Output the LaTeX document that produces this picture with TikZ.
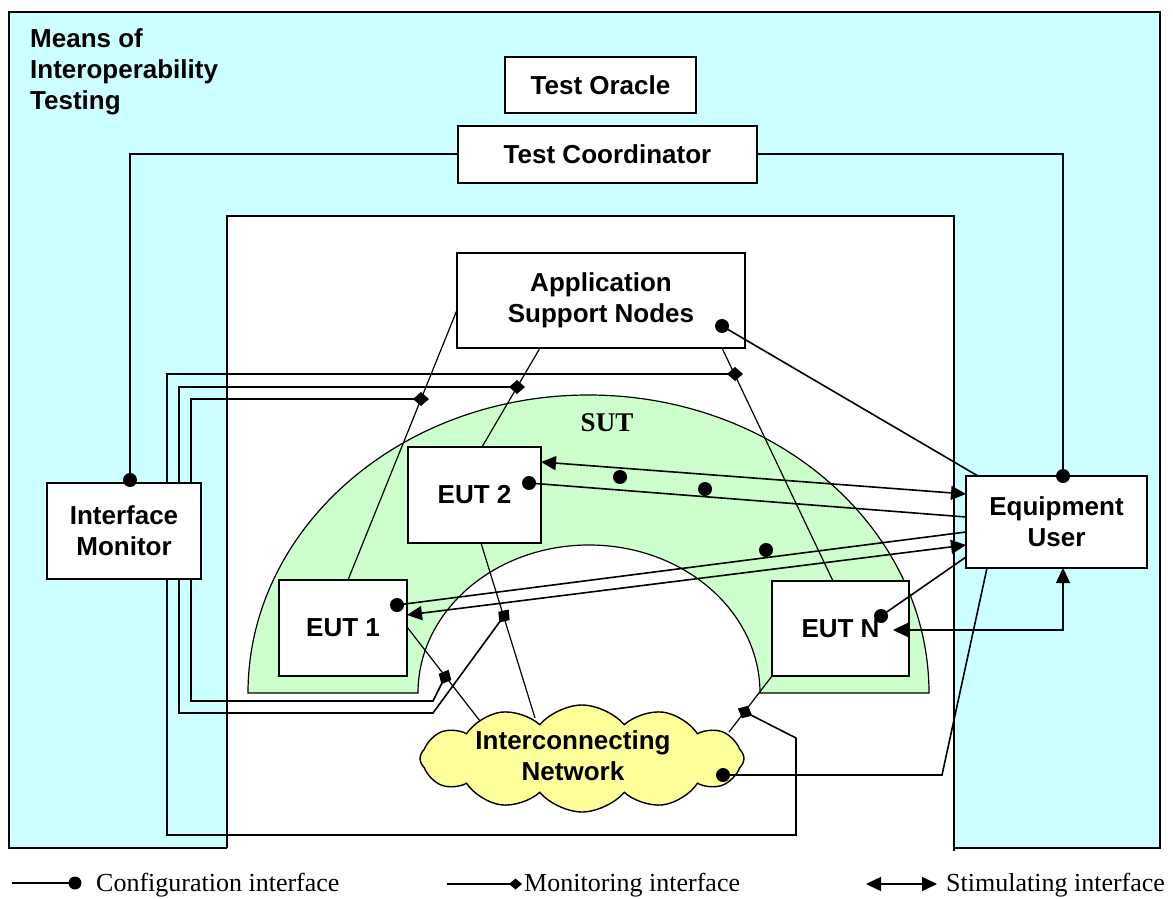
\documentclass[tikz,border=0pt]{standalone}
\usepackage{fontspec}
\setmainfont{Liberation Serif}
\setsansfont{Liberation Sans}
\usetikzlibrary{arrows.meta,shapes.symbols,shapes.geometric}
\definecolor{mcyan}{HTML}{CCFFFF}
\definecolor{mgreen}{HTML}{CCFFCC}
\definecolor{myellow}{HTML}{FFFF99}
\newcommand\lblfont{\sffamily\bfseries\fontsize{26}{31}\selectfont}
\newcommand\legfont{\rmfamily\fontsize{26}{30}\selectfont}
\begin{document}
\begin{tikzpicture}[x=1pt,y=-1pt,
  box/.style={draw, line width=1.5pt, fill=white, font=\lblfont, align=center, inner sep=0pt},
  link/.style={line width=1.2pt},
  wire/.style={line width=1.6pt},
  cfg/.style={line width=1.6pt},
  stim/.style={line width=1.6pt, {Triangle[length=15pt,width=14pt]}-{Triangle[length=15pt,width=14pt]}},
  mon/.style={line width=1.6pt, -{Diamond[length=16pt,width=14pt]}},
  dot/.style={circle, fill=black, inner sep=0pt, minimum size=14pt},
  lbl/.style={font=\lblfont, align=center, inner sep=0pt},
  leg/.style={font=\legfont, inner sep=0pt, anchor=base west}]
\useasboundingbox (0,0) rectangle (1173,899);
\fill[white] (0,0) rectangle (1173,899);
% means of interoperability testing area
\draw[fill=mcyan, line width=1.5pt] (9,12) rectangle (1160,848);
\fill[white] (227,216) rectangle (954,851);
\draw[line width=1.5pt] (227,848) -- (227,216) -- (954,216) -- (954,851);
% SUT
\draw[fill=mgreen, line width=1.2pt] (248,693) arc[start angle=180, end angle=360, x radius=340.5, y radius=298] -- (760,693) arc[start angle=0, end angle=-180, x radius=171, y radius=148] -- cycle;
\node[font=\rmfamily\bfseries\fontsize{27}{30}\selectfont, inner sep=0pt] (sut) at (607,423) {SUT};
% coordinates
\coordinate (coL) at (458,154);
\coordinate (coR) at (757,154);
\coordinate (imTop) at (130,480);
\coordinate (euTop) at (1063,476);
\coordinate (asnA) at (457,310); \coordinate (e1top) at (348,580);
\coordinate (asnB) at (540,348); \coordinate (e2top) at (482,447);
\coordinate (asnC) at (722,348); \coordinate (eNtop) at (833,581);
\coordinate (e1r) at (407,627); \coordinate (netA) at (480,721);
\coordinate (e2b) at (481,543); \coordinate (netB) at (535,718);
\coordinate (eNbl) at (772,676); \coordinate (netC) at (729,732);
% test coordinator wires
\draw[wire] (coL) -- (130,154) -- (imTop);
\draw[wire] (coR) -- (1063,154) -- (euTop);
% monitored links
\draw[link] (asnA) -- (e1top);
\draw[link] (asnB) -- (e2top);
\draw[link] (asnC) -- (eNtop);
\draw[link] (e1r) -- (netA);
\draw[link] (e2b) -- (netB);
\draw[link] (eNbl) -- (netC);
% monitoring wires from the interface monitor
\draw[mon] (191,500) -- (191,399) -- (429,399);
\draw[mon] (179,500) -- (179,387) -- (525,387);
\draw[mon] (167,500) -- (167,374) -- (743,374);
\draw[mon] (191,560) -- (191,701) -- (433,701) -- (448.6,669.8);
\draw[mon] (179,560) -- (179,713) -- (433,713) -- (508.7,609.5);
\draw[mon] (167,560) -- (167,835) -- (796,835) -- (796,738) -- (737.9,708.4);
% boxes
\node[box, minimum width=191pt, minimum height=56pt] (oracle) at (600.5,85) {Test Oracle};
\node[box, minimum width=299pt, minimum height=57pt] (coord) at (607.5,154.5) {Test Coordinator};
\node[box, minimum width=288pt, minimum height=95pt] (asn) at (601,300.5) {Application\\Support Nodes};
\node[box, minimum width=154pt, minimum height=96pt] (im) at (124,531) {Interface\\Monitor};
\node[box, minimum width=181pt, minimum height=92pt] (equ) at (1056.5,522) {Equipment\\User};
\node[box, minimum width=133pt, minimum height=96pt] (eut2) at (474.5,495) {EUT 2};
\node[box, minimum width=128pt, minimum height=96pt] (eut1) at (343,628) {EUT 1};
\node[box, minimum width=137pt, minimum height=95pt] (eutn) at (840.5,628.5) {EUT N};
\node[cloud, cloud puffs=12, cloud puff arc=100, cloud ignores aspect, draw, line width=1.4pt, fill=myellow, minimum width=324pt, minimum height=107pt] (net) at (582,758.5) {};
\node[lbl] (netlbl) at (573,756) {Interconnecting\\Network};
% configuration interfaces
\coordinate (cASN) at (722,326); \coordinate (uA) at (978,476);
\coordinate (cE2) at (529,483); \coordinate (uB) at (966,517);
\coordinate (cE1) at (397,605); \coordinate (uC) at (966,532);
\coordinate (cEN) at (881,616); \coordinate (uD) at (966,557);
\coordinate (cNet) at (723,775); \coordinate (uE) at (987,568);
\draw[cfg] (cASN) -- (uA);
\draw[cfg] (cE2) -- (uB);
\draw[cfg] (cE1) -- (uC);
\draw[cfg] (cEN) -- (uD);
\draw[cfg] (cNet) -- (942,775) -- (uE);
\foreach \p in {cASN,cE2,cE1,cEN,cNet,imTop,euTop} \node[dot] at (\p) {};
\node[dot] (x1) at (620,477) {};
\node[dot] (x2) at (705,489) {};
\node[dot] (x3) at (766,550) {};
% stimulating interfaces
\coordinate (sE2) at (541,462); \coordinate (sU2) at (966,494);
\coordinate (sE1) at (407,615); \coordinate (sU1) at (966,545);
\coordinate (sEN) at (893,630); \coordinate (sUN) at (1063,568);
\draw[stim] (sE2) -- (sU2);
\draw[stim] (sE1) -- (sU1);
\draw[stim] (sEN) -- (1063,630) -- (sUN);
% title
\node[lbl, align=left, anchor=north west] (title) at (30,28) {Means of\\Interoperability\\Testing};
% legend
\coordinate (l1a) at (12,883); \coordinate (l1b) at (75,883);
\draw[wire] (l1a) -- (l1b); \node[dot, minimum size=13pt] at (l1b) {};
\node[leg] (leg1) at (96,891) {Configuration interface};
\coordinate (l2a) at (447,884); \coordinate (l2b) at (522,884);
\draw[line width=1.6pt, -{Diamond[length=13pt,width=11pt]}] (l2a) -- (l2b);
\node[leg] (leg2) at (524,891) {Monitoring interface};
\coordinate (l3a) at (866,884); \coordinate (l3b) at (937,884);
\draw[stim] (l3a) -- (l3b);
\node[leg] (leg3) at (946,891) {Stimulating interface};
\end{tikzpicture}
\end{document}
